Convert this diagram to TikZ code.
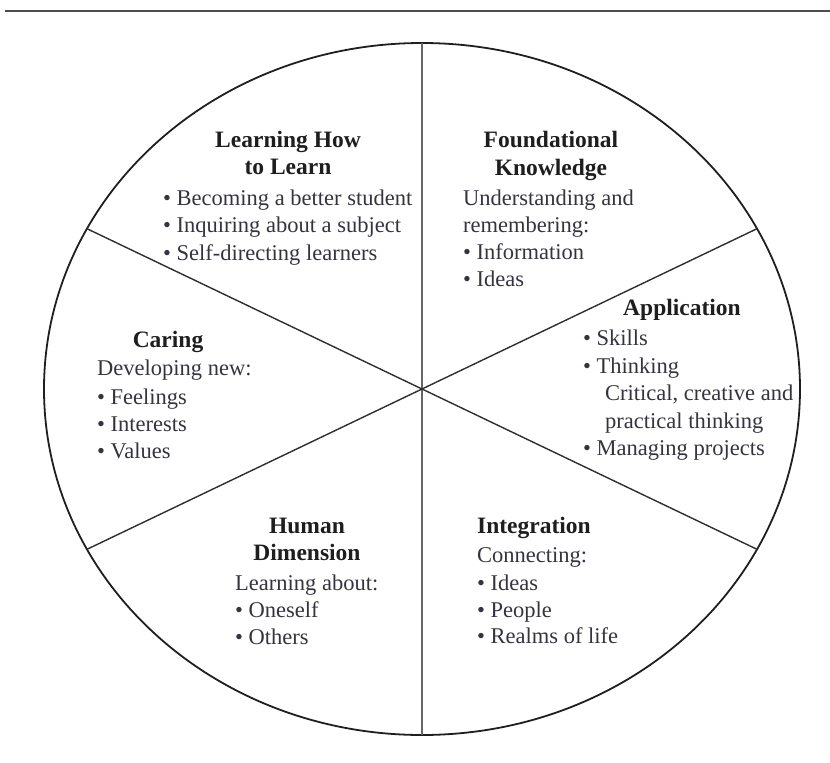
\documentclass[tikz,border=0pt]{standalone}
\usepackage{fontspec}
\setmainfont{Liberation Serif}
\definecolor{bodytext}{HTML}{34343F}
\definecolor{ink}{HTML}{1E1E1E}
\begin{document}
\begin{tikzpicture}[x=1pt,y=-1pt,
  title/.style={font=\fontsize{23.5}{27}\selectfont\bfseries, text=ink, inner sep=0pt, anchor=base},
  body/.style={font=\fontsize{22.5}{27}\selectfont, text=bodytext, inner sep=0pt, anchor=base west},
  rule/.style={line width=2.4pt, draw=black!70},
  rim/.style={line width=1.8pt, draw=black!88},
  spoke/.style={line width=1.4pt, draw=black!82},
  vspoke/.style={line width=1.6pt, draw=black!60}]
\useasboundingbox (0,0) rectangle (830,763);
% top rule
\coordinate (ruleL) at (5,11);
\coordinate (ruleR) at (830,11);
\draw[rule] (ruleL) -- (ruleR);
% wheel
\coordinate (c) at (422,389);
\draw[rim] (c) ellipse [x radius=378pt, y radius=346pt];
\coordinate (top) at (422,43);
\coordinate (bot) at (422,735);
\coordinate (ur) at (757,228.7);
\coordinate (ll) at (87,549.3);
\coordinate (ul) at (87,228.7);
\coordinate (lr) at (757,549.3);
\draw[vspoke] (top) -- (bot);
\draw[spoke] (ur) -- (ll);
\draw[spoke] (ul) -- (lr);
% Learning How to Learn
\node[title] (lt1) at (288,147) {Learning How};
\node[title] (lt2) at (288,174) {to Learn};
\node[body] (lb1) at (163,205) {• Becoming a better student};
\node[body] (lb2) at (163,232) {• Inquiring about a subject};
\node[body] (lb3) at (163,260) {• Self-directing learners};
% Foundational Knowledge
\node[title] (ft1) at (551,147) {Foundational};
\node[title] (ft2) at (551,175) {Knowledge};
\node[body] (fb1) at (463,205) {Understanding and};
\node[body] (fb2) at (463,232) {remembering:};
\node[body] (fb3) at (463,259) {• Information};
\node[body] (fb4) at (463,286) {• Ideas};
% Application
\node[title] (at1) at (682,315) {Application};
\node[body] (ab1) at (583,345) {• Skills};
\node[body] (ab2) at (583,373) {• Thinking};
\node[body] (ab3) at (605,400) {Critical, creative and};
\node[body] (ab4) at (605,428) {practical thinking};
\node[body] (ab5) at (583,455) {• Managing projects};
% Caring
\node[title] (ct1) at (168,347) {Caring};
\node[body] (cb1) at (97,375) {Developing new:};
\node[body] (cb2) at (97,404) {• Feelings};
\node[body] (cb3) at (97,431) {• Interests};
\node[body] (cb4) at (97,458) {• Values};
% Human Dimension
\node[title] (ht1) at (307,533) {Human};
\node[title] (ht2) at (307,560) {Dimension};
\node[body] (hb1) at (235,590) {Learning about:};
\node[body] (hb2) at (235,617) {• Oneself};
\node[body] (hb3) at (235,644) {• Others};
% Integration
\node[title, anchor=base west] (it1) at (477,533) {Integration};
\node[body] (ib1) at (477,562) {Connecting:};
\node[body] (ib2) at (477,590) {• Ideas};
\node[body] (ib3) at (477,617) {• People};
\node[body] (ib4) at (477,643) {• Realms of life};
\end{tikzpicture}
\end{document}
